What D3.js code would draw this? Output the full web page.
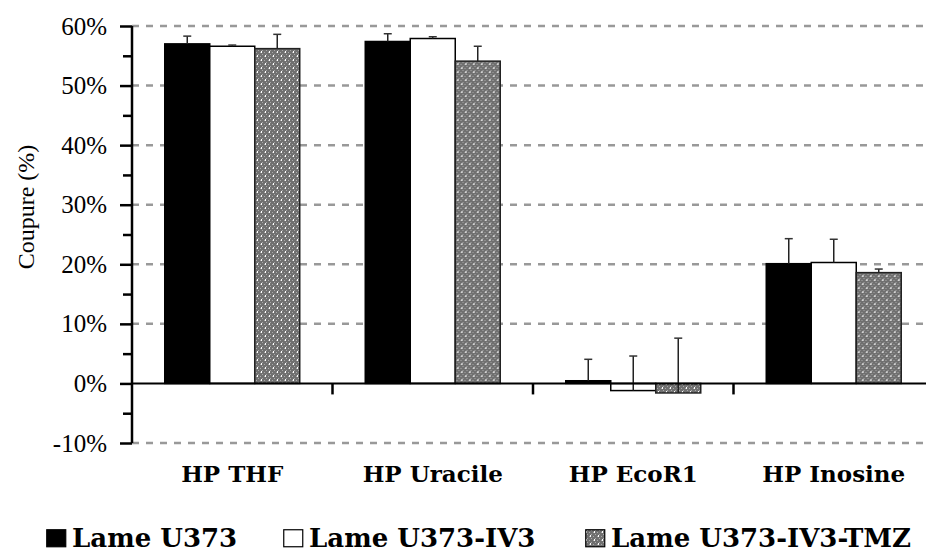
<!DOCTYPE html>
<html>
<head>
<meta charset="utf-8">
<script src="https://cdn.jsdelivr.net/npm/d3@7"></script>
<style>
  body { margin: 0; background: #fff; }
  svg { display: block; }
  .rm { font-family: "Liberation Serif", "Times New Roman", serif; }
  .bf { font-family: "DejaVu Serif", serif; font-weight: bold; }
</style>
</head>
<body>
<svg id="chart" width="926" height="554"></svg>
<script>
var categories = ["HP THF", "HP Uracile", "HP EcoR1", "HP Inosine"];
var seriesNames = ["Lame U373", "Lame U373-IV3", "Lame U373-IV3-TMZ"];
var u373 = [57.0, 57.4, 0.45, 20.1];
var u373Err = [1.3, 1.3, 3.6, 4.2];
var iv3 = [56.6, 57.9, -1.2, 20.3];
var iv3Err = [0.2, 0.3, 5.8, 3.9];
var tmz = [56.2, 54.1, -1.6, 18.6];
var tmzErr = [2.4, 2.5, 9.2, 0.6];
var yTicks = [-10, 0, 10, 20, 30, 40, 50, 60];
var yMinor = [-5, 5, 15, 25, 35, 45, 55];

var seriesVals = [u373, iv3, tmz];
var seriesErrs = [u373Err, iv3Err, tmzErr];
var fills = ["#000", "#fff", "url(#dots)"];

var svg = d3.select("#chart");

// gray dotted fill
var pat = svg.append("defs").append("pattern")
  .attr("id", "dots")
  .attr("patternUnits", "userSpaceOnUse")
  .attr("width", 8)
  .attr("height", 8);
pat.append("rect").attr("width", 8).attr("height", 8).attr("fill", "#707070");
[[0, 0], [2, 2], [4, 4], [6, 6], [0, 4], [4, 0], [2, 6], [6, 2]].forEach(function(p){
  pat.append("rect").attr("x", p[0]).attr("y", p[1]).attr("width", 1).attr("height", 1).attr("fill", "#a8a8a8");
});
pat.append("rect").attr("x", 1).attr("y", 3).attr("width", 1).attr("height", 2).attr("fill", "#fff");
pat.append("rect").attr("x", 5).attr("y", 7).attr("width", 1).attr("height", 1).attr("fill", "#fff");
pat.append("rect").attr("x", 5).attr("y", 0).attr("width", 1).attr("height", 1).attr("fill", "#fff");

var x0 = d3.scaleBand().domain(categories).range([132, 934]).paddingInner(0).paddingOuter(0);
var x1 = d3.scaleBand().domain(d3.range(3)).range([0, x0.bandwidth()]).paddingInner(0).paddingOuter(0.728);
var y = d3.scaleLinear().domain([-10, 60]).range([443, 26]);

// dashed gridlines
svg.append("g").selectAll("line")
  .data(yTicks.filter(function(d){ return d !== 0; }))
  .enter().append("line")
  .attr("x1", 132).attr("x2", 926)
  .attr("y1", function(d){ return y(d); })
  .attr("y2", function(d){ return y(d); })
  .attr("stroke", "#999")
  .attr("stroke-width", 2.5)
  .attr("stroke-dasharray", "7,7");

// bars
var groups = svg.append("g").selectAll("g")
  .data(categories)
  .enter().append("g")
  .attr("transform", function(d){ return "translate(" + x0(d) + ",0)"; });

function rows(d, i){
  return seriesVals.map(function(v, s){ return {s: s, v: v[i], e: seriesErrs[s][i]}; });
}

groups.selectAll("rect")
  .data(rows)
  .enter().append("rect")
  .attr("x", function(d){ return x1(d.s); })
  .attr("width", x1.bandwidth())
  .attr("y", function(d){ return y(Math.max(0, d.v)); })
  .attr("height", function(d){ return Math.abs(y(d.v) - y(0)); })
  .attr("fill", function(d){ return fills[d.s]; })
  .attr("stroke", function(d){ return d.s === 2 ? "#222" : "#000"; })
  .attr("stroke-width", 1.5);

// error bars (upper only)
var errs = groups.selectAll("g.err")
  .data(rows)
  .enter().append("g").attr("class", "err");
errs.append("line")
  .attr("x1", function(d){ return x1(d.s) + x1.bandwidth() / 2; })
  .attr("x2", function(d){ return x1(d.s) + x1.bandwidth() / 2; })
  .attr("y1", function(d){ return y(d.v); })
  .attr("y2", function(d){ return y(d.v + d.e); })
  .attr("stroke", "#222")
  .attr("stroke-width", 1.5);
errs.append("line")
  .attr("x1", function(d){ return x1(d.s) + x1.bandwidth() / 2 - 4; })
  .attr("x2", function(d){ return x1(d.s) + x1.bandwidth() / 2 + 4; })
  .attr("y1", function(d){ return y(d.v + d.e); })
  .attr("y2", function(d){ return y(d.v + d.e); })
  .attr("stroke", "#333")
  .attr("stroke-width", 1.5);

// zero baseline with category separators
svg.append("line")
  .attr("x1", 132).attr("x2", 934)
  .attr("y1", y(0)).attr("y2", y(0))
  .attr("stroke", "#000").attr("stroke-width", 2);
svg.append("g").selectAll("line")
  .data(categories.slice(1))
  .enter().append("line")
  .attr("x1", function(d){ return x0(d); })
  .attr("x2", function(d){ return x0(d); })
  .attr("y1", y(0)).attr("y2", y(0) + 11)
  .attr("stroke", "#000").attr("stroke-width", 2.5);

// y axis
var yAxis = d3.axisLeft(y).tickValues(yTicks).tickSize(12)
  .tickFormat(function(d){ return d + "%"; });
var gy = svg.append("g").attr("transform", "translate(132,0)").call(yAxis);
gy.attr("font-family", null).attr("font-size", null);
gy.select(".domain").remove();
gy.selectAll(".tick line").attr("stroke", "#000").attr("stroke-width", 2.5);
gy.selectAll(".tick text")
  .attr("class", "rm")
  .attr("x", -25)
  .style("font-size", "25px")
  .attr("fill", "#000");
svg.append("g").attr("transform", "translate(132,0)")
  .call(d3.axisLeft(y).tickValues(yMinor).tickSize(9).tickFormat(""))
  .call(function(g){ g.select(".domain").remove(); })
  .selectAll(".tick line").attr("stroke", "#000").attr("stroke-width", 2.5);
svg.append("line")
  .attr("x1", 132).attr("x2", 132)
  .attr("y1", y(60)).attr("y2", y(-10))
  .attr("stroke", "#000").attr("stroke-width", 2.5);

svg.append("text")
  .attr("class", "rm")
  .attr("transform", "translate(34,207) rotate(-90)")
  .attr("text-anchor", "middle")
  .style("font-size", "24px")
  .text("Coupure (%)");

// category labels
svg.append("g").selectAll("text")
  .data(categories)
  .enter().append("text")
  .attr("class", "bf")
  .attr("x", function(d){ return x0(d) + x0.bandwidth() / 2; })
  .attr("y", 482)
  .attr("text-anchor", "middle")
  .style("font-size", "23px")
  .text(function(d){ return d; });

// legend
var legendX = [46, 283, 585];
var leg = svg.append("g").selectAll("g")
  .data(seriesNames)
  .enter().append("g")
  .attr("transform", function(d, i){ return "translate(" + legendX[i] + ",0)"; });
leg.append("rect")
  .attr("x", 0.75).attr("y", 529.75)
  .attr("width", 19).attr("height", 17)
  .attr("fill", function(d, i){ return fills[i]; })
  .attr("stroke", "#000").attr("stroke-width", 1.2);
leg.append("text")
  .attr("class", "bf")
  .attr("x", 26).attr("y", 547)
  .style("font-size", "26px")
  .text(function(d){ return d; });
</script>
</body>
</html>
